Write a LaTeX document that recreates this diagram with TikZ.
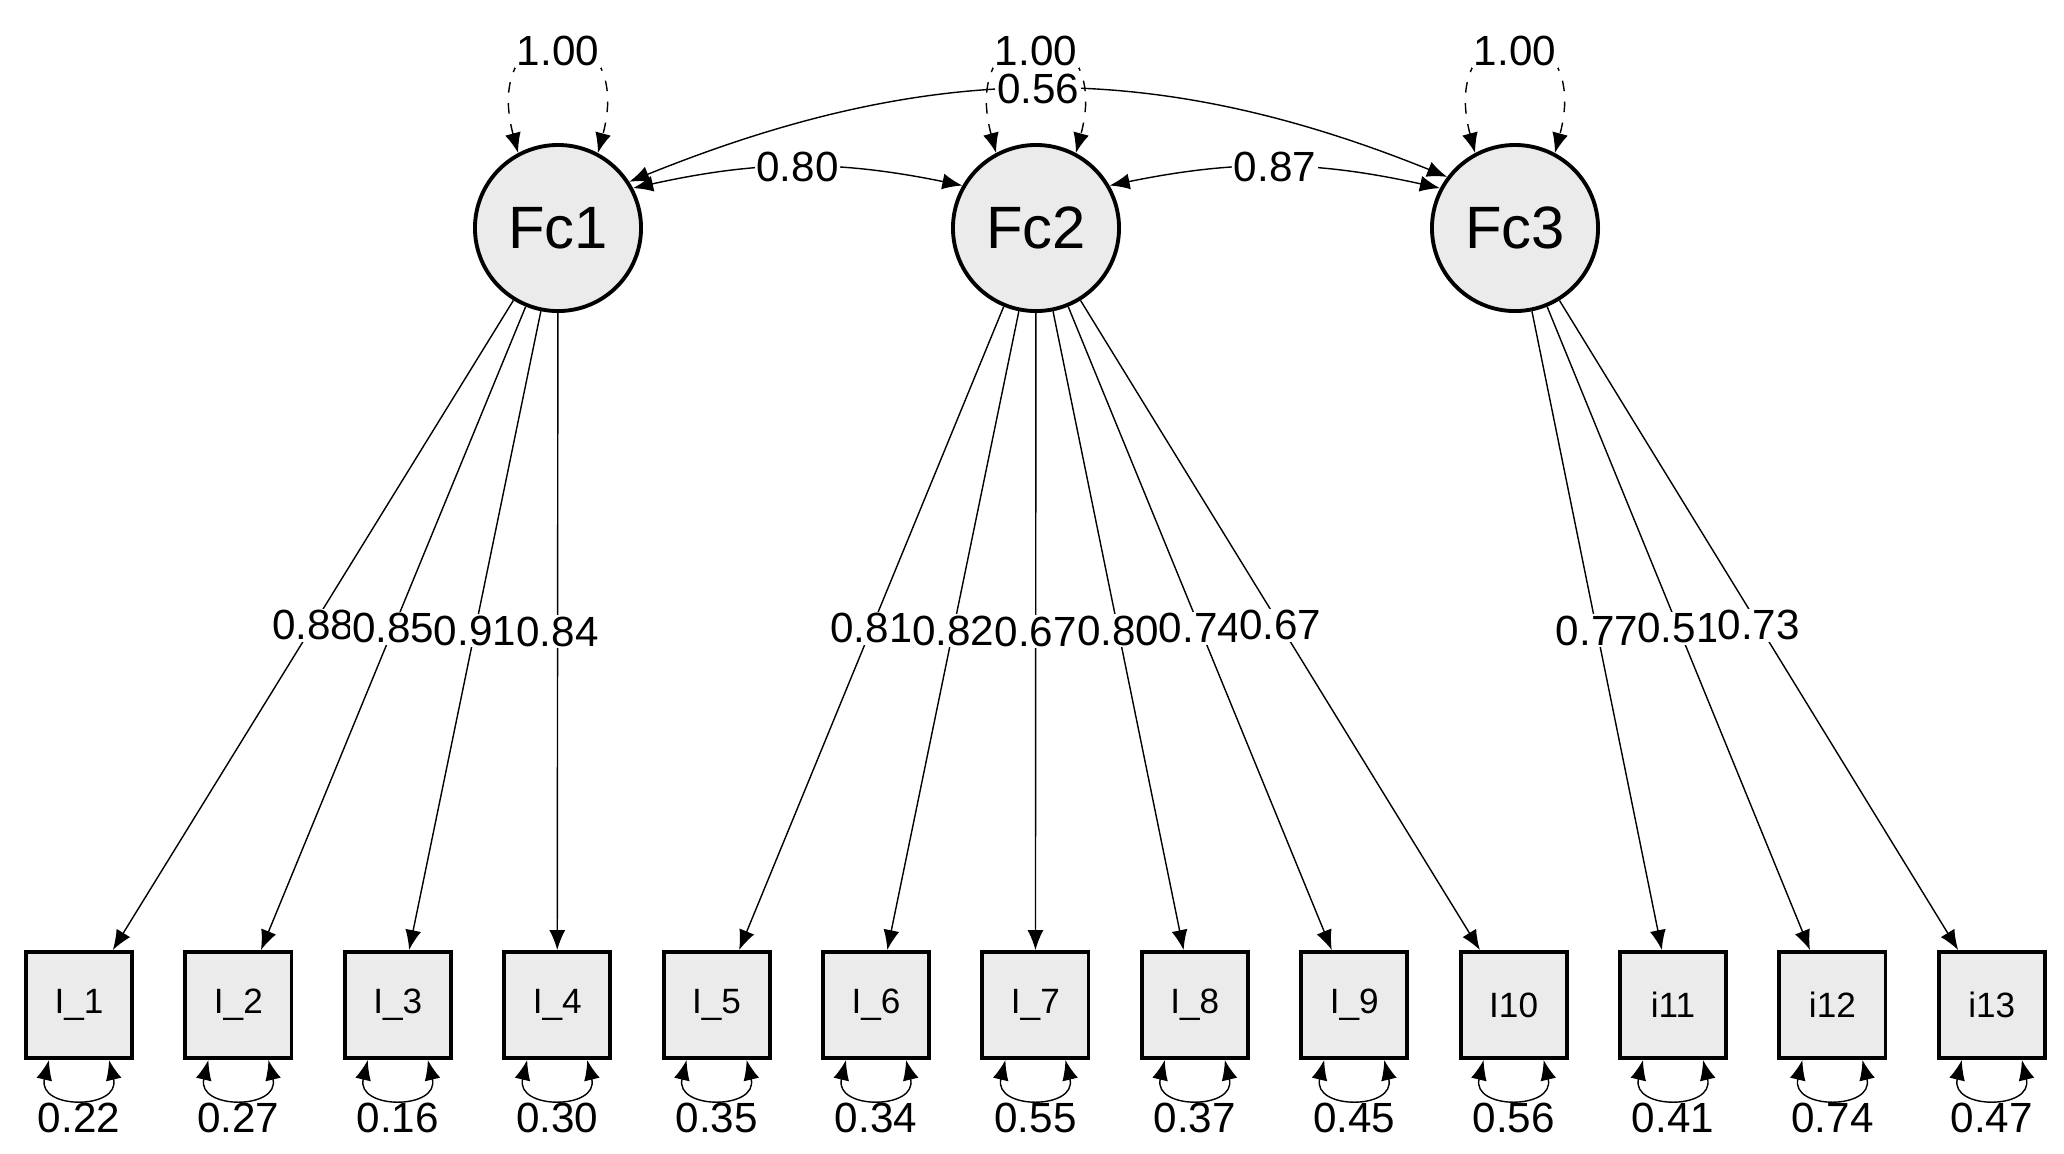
\documentclass[tikz,border=0pt]{standalone}
\usepackage{fontspec}
\setmainfont{Liberation Sans}
\usetikzlibrary{arrows.meta}
\definecolor{nodegray}{HTML}{EBEBEB}
\begin{document}
\begin{tikzpicture}[x=0.01cm, y=-0.01cm, thin,
    factor/.style = {draw, circle, line width=1.1pt, fill=nodegray, minimum size=1.66cm, inner sep=0pt, font=\fontsize{17}{17}\selectfont},
    item/.style = {draw, rectangle, line width=1.1pt, fill=nodegray, minimum size=1.06cm, inner sep=0pt, font=\fontsize{10}{10}\selectfont},
    lbl/.style = {fill=white, inner sep=0.5pt, font=\fontsize{12}{12}\selectfont},
    edge/.style = {-{Latex[length=2mm, width=1.6mm]}},
    both/.style = {{Latex[length=2mm, width=1.6mm]}-{Latex[length=2mm, width=1.6mm]}}]
    \useasboundingbox (0,0) rectangle (2064,1153);
    \node[factor] (F1) at (558,228) {Fc1};
    \node[factor] (F2) at (1036,228) {Fc2};
    \node[factor] (F3) at (1515,228) {Fc3};
    \foreach \i/\t in {1/I\_1, 2/I\_2, 3/I\_3, 4/I\_4, 5/I\_5, 6/I\_6, 7/I\_7, 8/I\_8, 9/I\_9, 10/I10, 11/i11, 12/i12, 13/i13} {
        \node[item] (I\i) at ({79+159.4*(\i-1)},1005) {\t};
    }
    % variances of factors
    \foreach \f in {F1, F2, F3} {
        \draw[both, dashed] (\f.118) .. controls +(105:1.5cm) and +(75:1.5cm) .. node[lbl, pos=0.5, yshift=-2pt] {1.00} (\f.62);
    }
    % covariances
    \draw[both] (F1.28) to[bend left=12] node[lbl] {0.80} (F2.150);
    \draw[both] (F2.30) to[bend left=12] node[lbl] {0.87} (F3.152);
    \draw[both] (F1.33) to[out=22, in=158] node[lbl, pos=0.5] {0.56} (F3.143);
    % loadings
    \foreach \f/\j/\v in {F1/1/0.88, F1/2/0.85, F1/3/0.91, F1/4/0.84,
        F2/5/0.81, F2/6/0.82, F2/7/0.67, F2/8/0.80, F2/9/0.74, F2/10/0.67,
        F3/11/0.77, F3/12/0.51, F3/13/0.73} {
        \draw[edge] (\f) -- node[lbl] {\v} (I\j);
    }
    % residuals
    \foreach \j/\v in {1/0.22, 2/0.27, 3/0.16, 4/0.30, 5/0.35, 6/0.34, 7/0.55, 8/0.37, 9/0.45, 10/0.56, 11/0.41, 12/0.74, 13/0.47} {
        \draw[both] ([xshift=-0.3cm]I\j.south) .. controls +(-0.12cm,-0.5cm) and +(0.12cm,-0.5cm) .. ([xshift=0.3cm]I\j.south);
        \node[lbl, fill=none] (r\j) at ({79+159.4*(\j-1)},1118) {\v};
    }
\end{tikzpicture}
\end{document}
